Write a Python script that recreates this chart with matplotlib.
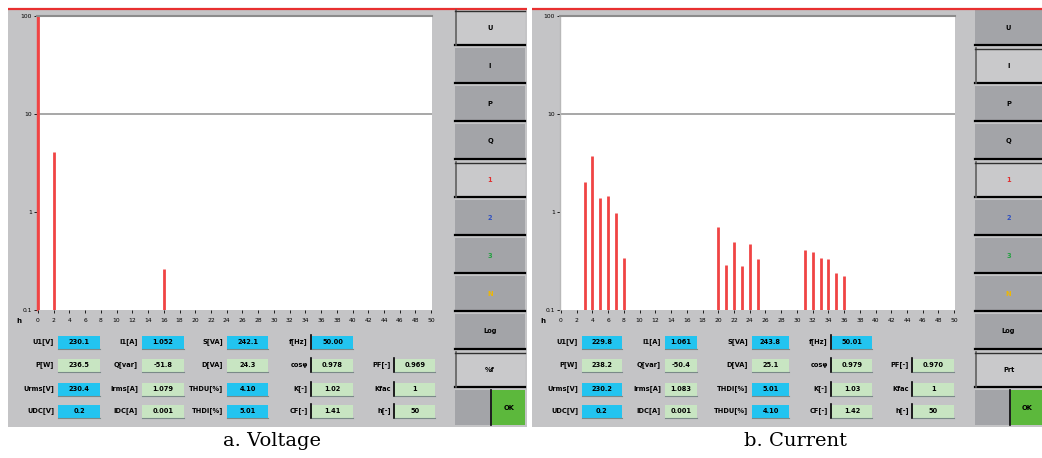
import matplotlib
matplotlib.use("Agg")
import matplotlib.pyplot as plt
from matplotlib.patches import Rectangle

W, H = 1042, 458

# Harmonic spectra, level in % of fundamental (log scale)
volt_orders = [0, 2, 16]
volt_levels = [100.0, 4.09, 0.26]
curr_orders = [3, 4, 5, 6, 7, 8,
               20, 21, 22, 23, 24, 25,
               31, 32, 33, 34, 35, 36]
curr_levels = [2.01, 3.75, 1.38, 1.45, 0.97, 0.34,
               0.70, 0.29, 0.49, 0.28, 0.47, 0.33,
               0.41, 0.39, 0.34, 0.33, 0.24, 0.22]
order_ticks = list(range(0, 51, 2))
level_ticks = [0.1, 1, 10, 100]
level_tick_labels = ["0.1", "1", "10", "100"]
limit_level = 10

# Measurement readouts under each spectrum (label, value)
volt_info = [
    [("U1[V]", "230.1"), ("I1[A]", "1.052"), ("S[VA]", "242.1"), ("f[Hz]", "50.00")],
    [("P[W]", "236.5"), ("Q[var]", "-51.8"), ("D[VA]", "24.3"), ("cosφ", "0.978"), ("PF[-]", "0.969")],
    [("Urms[V]", "230.4"), ("Irms[A]", "1.079"), ("THDU[%]", "4.10"), ("K[-]", "1.02"), ("Kfac", "1")],
    [("UDC[V]", "0.2"), ("IDC[A]", "0.001"), ("THDI[%]", "5.01"), ("CF[-]", "1.41"), ("h[-]", "50")],
]
curr_info = [
    [("U1[V]", "229.8"), ("I1[A]", "1.061"), ("S[VA]", "243.8"), ("f[Hz]", "50.01")],
    [("P[W]", "238.2"), ("Q[var]", "-50.4"), ("D[VA]", "25.1"), ("cosφ", "0.979"), ("PF[-]", "0.970")],
    [("Urms[V]", "230.2"), ("Irms[A]", "1.083"), ("THDI[%]", "5.01"), ("K[-]", "1.03"), ("Kfac", "1")],
    [("UDC[V]", "0.2"), ("IDC[A]", "0.001"), ("THDU[%]", "4.10"), ("CF[-]", "1.42"), ("h[-]", "50")],
]
info_colors = [
    ["b", "b", "b", "b"],
    ["g", "g", "g", "g", "g"],
    ["b", "g", "b", "g", "g"],
    ["b", "g", "b", "g", "g"],
]
volt_buttons = ["U", "I", "P", "Q", "1", "2", "3", "N", "Log", "%f"]
curr_buttons = ["U", "I", "P", "Q", "1", "2", "3", "N", "Log", "Prt"]
button_text_colors = ["black"] * 4 + ["#e03030", "#3050c0", "#22a040", "#f0b800"] + ["black"] * 2

PANEL = "#c4c4c6"
BTN_DARK = "#a3a4a8"
BTN_LIGHT = "#c9c9cb"
BAR_RED = "#f04444"
BOX_BLUE = "#22c4f0"
BOX_GREEN = "#c8e5c2"
GREEN_BTN = "#5cb83c"

fig = plt.figure(figsize=(W / 100, H / 100), dpi=100)
fig.patch.set_facecolor("white")

bg = fig.add_axes([0, 0, 1, 1])
bg.set_xlim(0, W)
bg.set_ylim(H, 0)
bg.set_axis_off()


def rect(x0, y0, x1, y1, color, **kw):
    bg.add_patch(Rectangle((x0, y0), x1 - x0, y1 - y0, facecolor=color,
                           edgecolor="none", **kw))


def draw_panel(px0, px1, plot_x0, btn_x0, btn_x1, buttons, selected,
               info, col_boxes):
    rect(px0, 9, px1, 427, PANEL)
    bg.plot([px0, px1], [8.5, 8.5], color="#e83030", lw=1.6, solid_capstyle="butt")

    # side buttons
    pitch = 38
    for i in range(11):
        y0 = 10 + i * pitch
        y1 = y0 + 35
        if i < 10:
            light = i in selected
            rect(btn_x0, y0, btn_x1, y1, BTN_LIGHT if light else BTN_DARK)
            bg.plot([btn_x0, btn_x1], [y1, y1], color="black", lw=1.6)
            if light:
                bg.plot([btn_x0 + 0.5, btn_x0 + 0.5], [y0, y1], color="#606060", lw=1.2)
                bg.plot([btn_x0, btn_x1], [y0 + 0.5, y0 + 0.5], color="#303030", lw=1.0)
            bg.text((btn_x0 + btn_x1) / 2, (y0 + y1) / 2, buttons[i],
                    ha="center", va="center", fontsize=4.8, fontweight="bold",
                    color=button_text_colors[i])
        else:
            mid = (btn_x0 + btn_x1) / 2 + 1
            rect(btn_x0, y0, mid - 1, y1, BTN_DARK)
            rect(mid + 1, y0, btn_x1, y1, GREEN_BTN)
            bg.plot([mid, mid], [y0, y1], color="black", lw=1.2)
            bg.text((mid + btn_x1) / 2 + 1, (y0 + y1) / 2, "OK", ha="center",
                    va="center", fontsize=4.8, fontweight="bold", color="black")

    # readout rows
    row_y = [342, 365, 389, 411]
    for r, row in enumerate(info):
        for c, (lab, val) in enumerate(row):
            bx0, bx1 = col_boxes[c]
            y = row_y[r]
            col = BOX_BLUE if info_colors[r][c] == "b" else BOX_GREEN
            rect(bx0, y - 6.5, bx1, y + 6.5, col)
            bg.plot([bx0, bx1], [y + 6.5, y + 6.5], color="#7a8a88", lw=0.8)
            if c >= 3:
                bg.plot([bx0 - 1, bx0 - 1], [y - 7, y + 7], color="black", lw=1.2)
            bg.text(bx0 - 4, y, lab, ha="right", va="center", fontsize=4.8,
                    fontweight="bold", color="black")
            bg.text((bx0 + bx1) / 2, y, val, ha="center", va="center",
                    fontsize=4.8, fontweight="bold", color="black")
    # harmonic order axis name
    bg.text(px0 + 8, 321, "h", ha="left", va="center", fontsize=5,
            fontweight="bold", color="black")


def spectrum(plot_x0, orders, levels, left_color):
    ax = fig.add_axes([plot_x0 / W, 1 - 310 / H, 395 / W, 294 / H])
    ax.set_facecolor("white")
    ax.set_yscale("log")
    ax.set_ylim(level_ticks[0], level_ticks[-1])
    ax.set_xlim(-0.12, 50.1)
    ax.axhline(limit_level, color="#a0a0a0", lw=1.3, zorder=1)
    ax.vlines(orders, level_ticks[0], levels, color=BAR_RED, lw=2.0, zorder=2)
    for s in ["right", "bottom"]:
        ax.spines[s].set_visible(False)
    ax.spines["top"].set_color("#8c8c8c")
    ax.spines["top"].set_linewidth(1.5)
    ax.spines["left"].set_color(left_color)
    ax.spines["left"].set_linewidth(1.0)
    ax.set_xticks(order_ticks)
    ax.set_xticklabels([str(t) for t in order_ticks], fontsize=4.3)
    ax.set_yticks(level_ticks)
    ax.set_yticklabels(level_tick_labels, fontsize=4.3)
    ax.minorticks_off()
    ax.tick_params(axis="x", length=2, width=0.6, pad=3.5, colors="black")
    ax.tick_params(axis="y", length=2, width=0.6, pad=1.5, colors="black")
    return ax


left_cols = [(58, 100), (142, 184), (227, 268), (312, 353), (395, 435)]
right_cols = [(582, 622), (665, 697), (752, 789), (832, 872), (913, 954)]

draw_panel(8, 527, 37, 455, 525, volt_buttons, {0, 4, 9}, volt_info, left_cols)
draw_panel(532, 1042, 560, 975, 1042, curr_buttons, {1, 4, 9}, curr_info, right_cols)

spectrum(37, volt_orders, volt_levels, BAR_RED)
spectrum(560, curr_orders, curr_levels, "#b8b8b8")

fig.text(272 / W, 1 - 441 / H, "a. Voltage", ha="center", va="center",
         fontsize=14, family="DejaVu Serif")
fig.text(795 / W, 1 - 441 / H, "b. Current", ha="center", va="center",
         fontsize=14, family="DejaVu Serif")

fig.savefig("out.png", dpi=100, facecolor="white")
